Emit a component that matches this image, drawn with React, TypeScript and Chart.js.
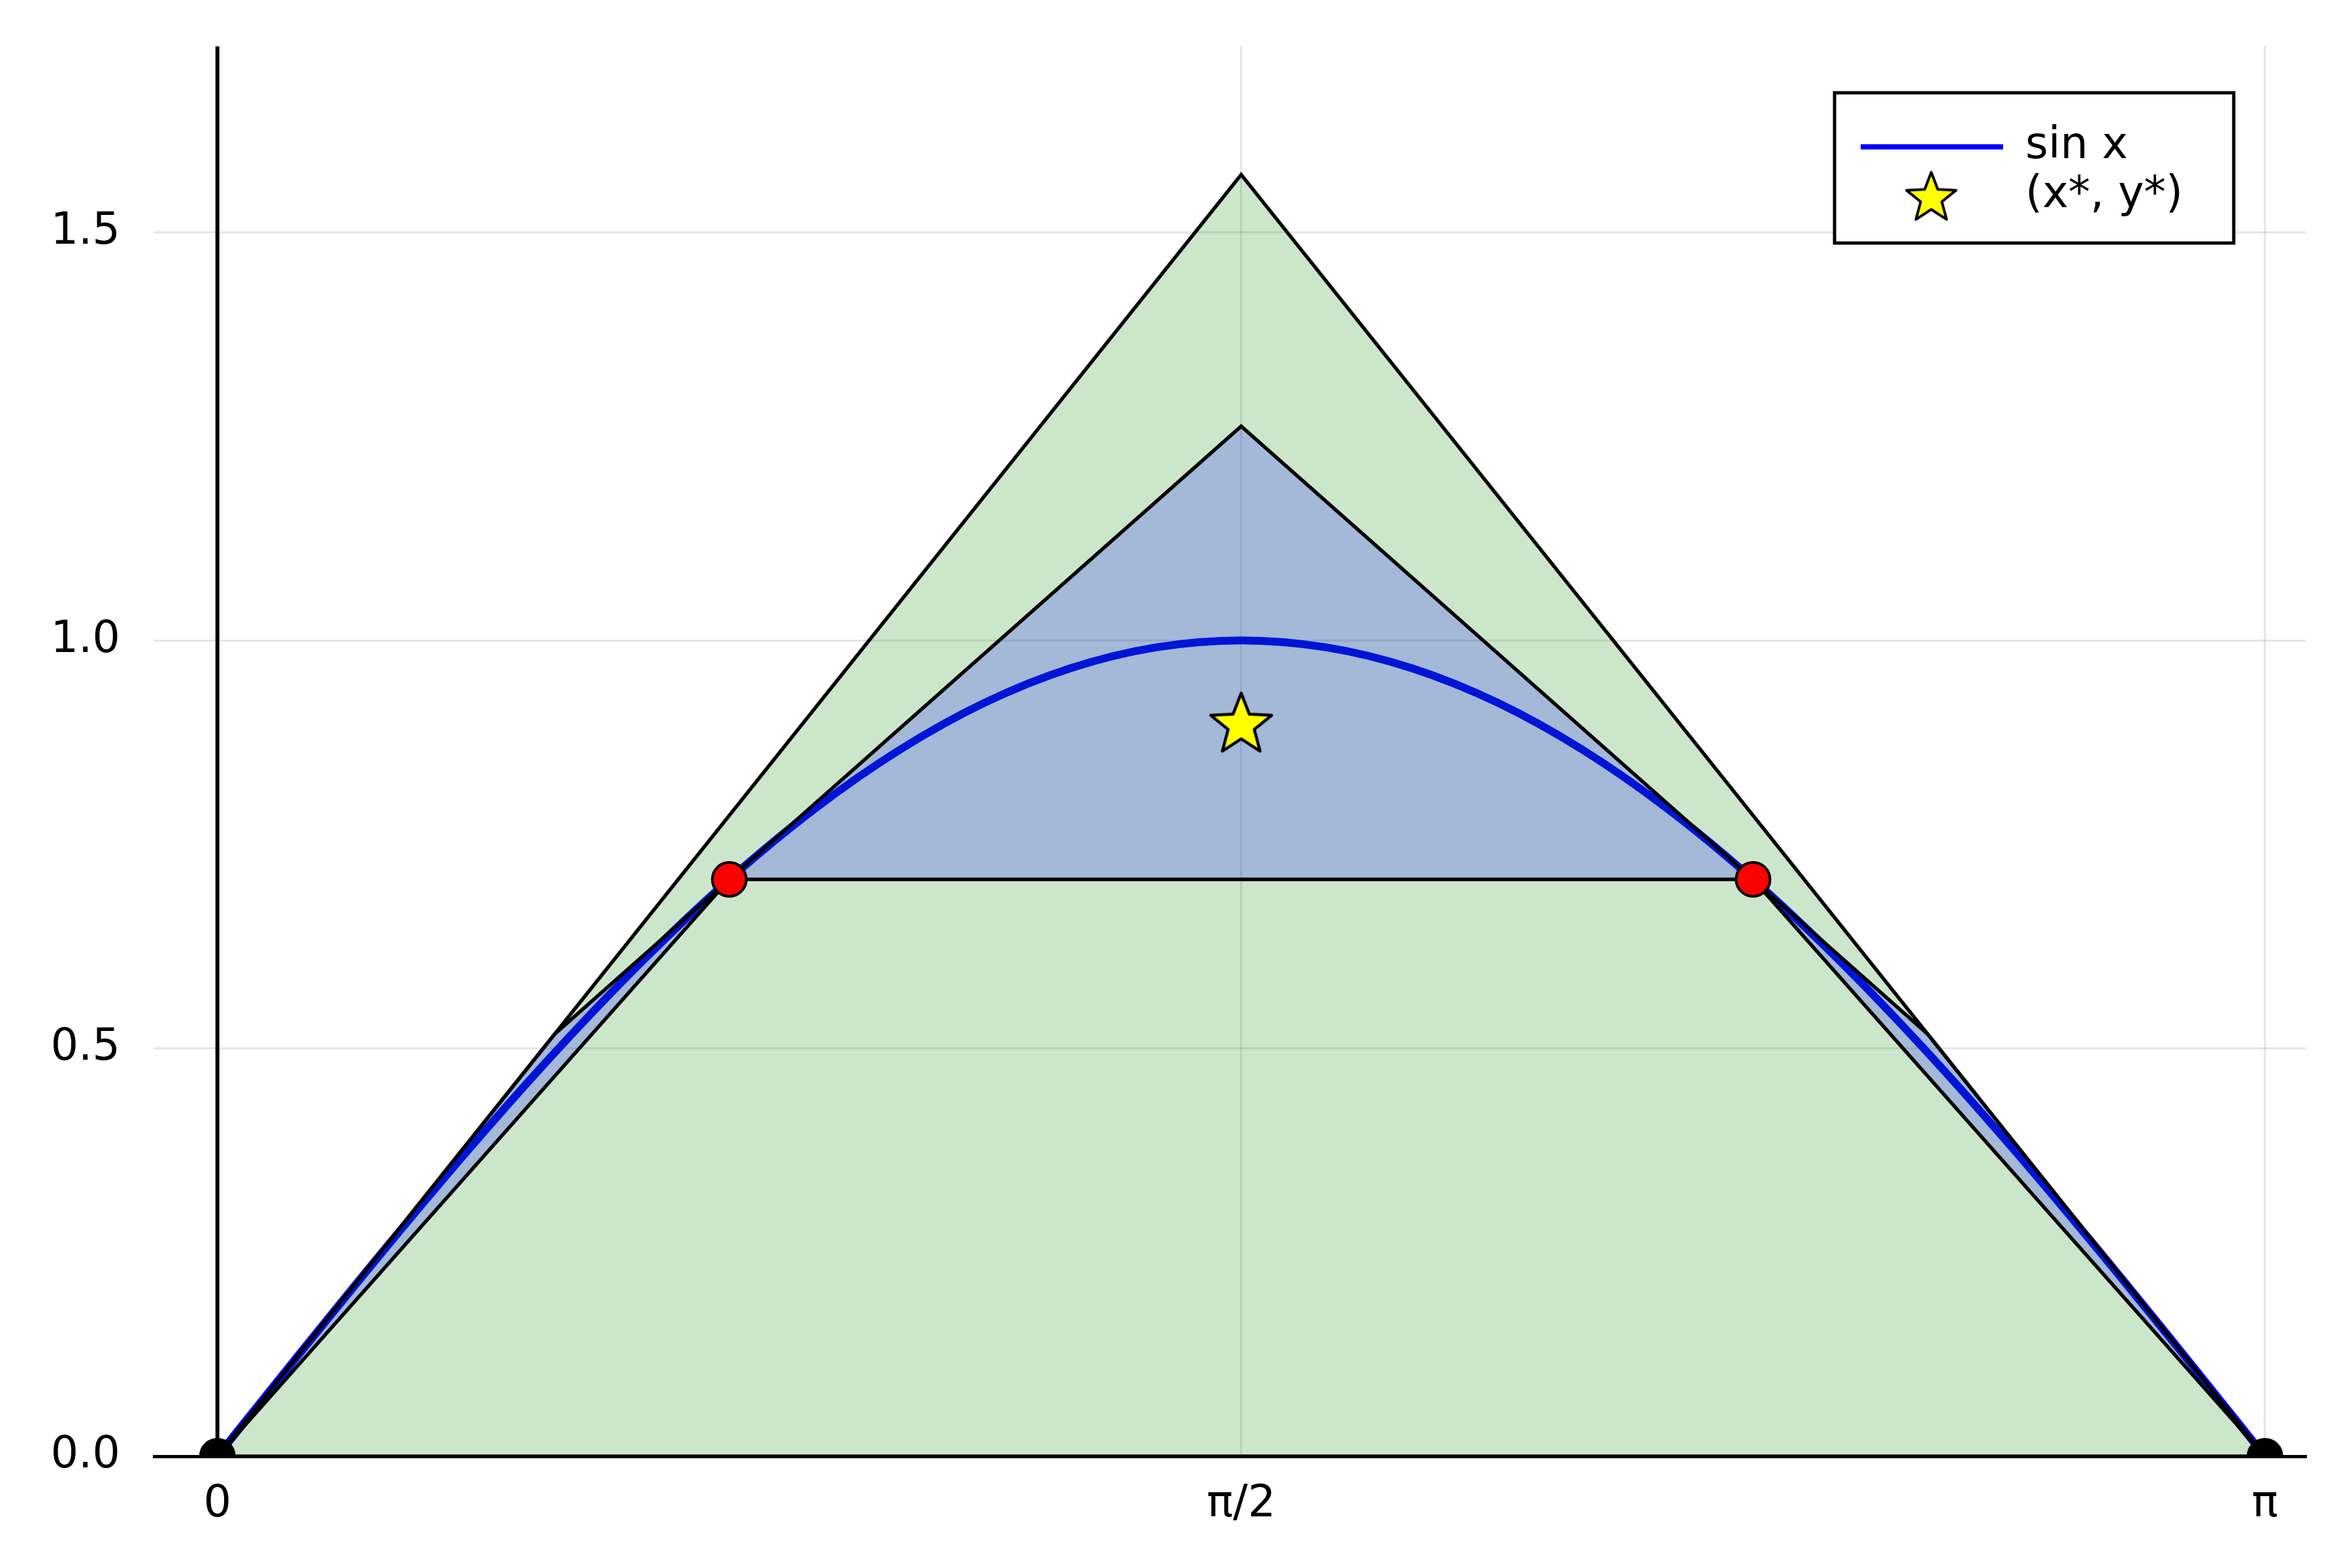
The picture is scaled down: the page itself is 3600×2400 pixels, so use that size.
import React, { useEffect, useRef } from 'react';
import { Chart, registerables } from 'chart.js';

Chart.register(...registerables);

// sin x
const sinX = [0, 0.1309, 0.2618, 0.3927, 0.5236, 0.6545, 0.7854, 0.9163, 1.0472, 1.1781, 1.309, 1.4399, 1.5708, 1.7017, 1.8326, 1.9635, 2.0944, 2.2253, 2.3562, 2.4871, 2.618, 2.7489, 2.8798, 3.0107, 3.1416];
const sinY = [0, 0.1305, 0.2588, 0.3827, 0.5, 0.6088, 0.7071, 0.7934, 0.866, 0.9239, 0.9659, 0.9914, 1.0, 0.9914, 0.9659, 0.9239, 0.866, 0.7934, 0.7071, 0.6088, 0.5, 0.3827, 0.2588, 0.1305, 0];

// outer (green) triangle
const outerX = [0, 1.5708, 3.1416, 0];
const outerY = [0, 1.5708, 0, 0];

// blue band: tangent polygon then chord polygon back
const bandX = [0, 0.5176, 0.7854, 1.5708, 2.3562, 2.624, 3.1416, 2.3562, 0.7854, 0];
const bandY = [0, 0.5176, 0.7071, 1.2625, 0.7071, 0.5176, 0, 0.7071, 0.7071, 0];

// points
const endX = [0, 3.1416];
const endY = [0, 0];
const midX = [0.7854, 2.3562];
const midY = [0.7071, 0.7071];
const starX = [1.5708];
const starY = [0.9];

const xTickValues = [0, 1.5708, 3.1416];
const xTickLabels = ['0', 'π/2', 'π'];
const yTickValues = [0, 0.5, 1.0, 1.5];
const yTickLabels = ['0.0', '0.5', '1.0', '1.5'];

const seriesLabels = ['sin x', '(x*, y*)'];

const X_MIN = -0.097;
const X_MAX = 3.204;
const Y_MIN = 0;
const Y_MAX = 1.728;

const FONT = '"DejaVu Sans", "Liberation Sans", sans-serif';

function zip(xs: number[], ys: number[]) {
  return xs.map((x, i) => ({ x, y: ys[i] }));
}

function makeStar(R: number, r: number, lw: number) {
  const c = document.createElement('canvas');
  const size = Math.ceil(2 * (R + lw)) + 2;
  c.width = size;
  c.height = size;
  const ctx = c.getContext('2d')!;
  const cx = size / 2;
  const cy = size / 2 + R * 0.1;
  ctx.beginPath();
  for (let i = 0; i < 10; i++) {
    const rad = i % 2 === 0 ? R : r;
    const a = -Math.PI / 2 + (i * Math.PI) / 5;
    const px = cx + rad * Math.cos(a);
    const py = cy + rad * Math.sin(a);
    if (i === 0) ctx.moveTo(px, py);
    else ctx.lineTo(px, py);
  }
  ctx.closePath();
  ctx.fillStyle = '#ffff00';
  ctx.fill();
  ctx.lineJoin = 'round';
  ctx.lineWidth = lw;
  ctx.strokeStyle = '#000';
  ctx.stroke();
  return c;
}

export default function App() {
  const ref = useRef<HTMLCanvasElement | null>(null);

  useEffect(() => {
    if (!ref.current) return;
    const star = makeStar(49, 21, 4.5);
    const legendStar = makeStar(40, 17, 4);

    const axisLinePlugin = {
      id: 'zeroAxis',
      beforeDatasetsDraw(chart: any) {
        const { ctx, chartArea } = chart;
        const x = chart.scales.x.getPixelForValue(0);
        ctx.save();
        ctx.strokeStyle = '#000';
        ctx.lineWidth = 6;
        ctx.beginPath();
        ctx.moveTo(x, chartArea.top);
        ctx.lineTo(x, chartArea.bottom);
        ctx.stroke();
        ctx.restore();
      },
    };

    const legendPlugin = {
      id: 'boxLegend',
      afterDraw(chart: any) {
        const ctx = chart.ctx;
        const x0 = 2808, y0 = 142, w = 611, h = 230;
        const row1 = y0 + 0.36 * h;
        const row2 = y0 + 0.685 * h;
        ctx.save();
        ctx.fillStyle = '#ffffff';
        ctx.fillRect(x0, y0, w, h);
        ctx.lineWidth = 5;
        ctx.strokeStyle = '#000';
        ctx.strokeRect(x0, y0, w, h);
        ctx.strokeStyle = 'rgb(0,0,255)';
        ctx.lineWidth = 8;
        ctx.beginPath();
        ctx.moveTo(x0 + 40, row1);
        ctx.lineTo(x0 + 258, row1);
        ctx.stroke();
        ctx.drawImage(legendStar, x0 + 148 - legendStar.width / 2, row2 - legendStar.height / 2);
        ctx.fillStyle = '#000';
        ctx.font = '67px ' + FONT;
        ctx.textBaseline = 'middle';
        ctx.textAlign = 'left';
        ctx.fillText(seriesLabels[0], x0 + 292, row1);
        ctx.fillText(seriesLabels[1], x0 + 292, row2);
        ctx.restore();
      },
    };

    const lineBase = {
      pointRadius: 0,
      pointHoverRadius: 0,
      tension: 0,
    };

    const chart = new Chart(ref.current, {
      type: 'line',
      data: {
        datasets: [
          {
            ...lineBase,
            label: 'tangent points',
            data: zip(midX, midY),
            showLine: false,
            pointRadius: 26,
            pointBackgroundColor: '#ff0000',
            pointBorderColor: '#000',
            pointBorderWidth: 4,
            order: 0,
            clip: false as any,
          } as any,
          {
            ...lineBase,
            label: 'endpoints',
            data: zip(endX, endY),
            showLine: false,
            pointRadius: 26,
            pointBackgroundColor: '#000',
            pointBorderColor: '#000',
            pointBorderWidth: 4,
            order: 1,
            clip: 0 as any,
          } as any,
          {
            ...lineBase,
            label: seriesLabels[1],
            data: zip(starX, starY),
            showLine: false,
            pointRadius: 40,
            pointStyle: star as any,
            order: 2,
          } as any,
          {
            ...lineBase,
            label: 'band',
            data: zip(bandX, bandY),
            borderColor: '#000',
            borderWidth: 5.5,
            backgroundColor: 'rgba(0,0,255,0.2)',
            fill: 'shape' as any,
            order: 3,
          } as any,
          {
            ...lineBase,
            label: 'triangle',
            data: zip(outerX, outerY),
            borderColor: '#000',
            borderWidth: 5.5,
            backgroundColor: 'rgba(0,128,0,0.2)',
            fill: 'shape' as any,
            order: 4,
          } as any,
          {
            ...lineBase,
            label: seriesLabels[0],
            data: zip(sinX, sinY),
            borderColor: 'rgb(0,0,255)',
            borderWidth: 12,
            cubicInterpolationMode: 'monotone',
            fill: false,
            order: 5,
          } as any,
        ],
      },
      options: {
        animation: false,
        responsive: false,
        events: [],
        layout: { padding: { left: 0, right: 71, top: 0, bottom: 0 } },
        plugins: {
          legend: { display: false },
          tooltip: { enabled: false },
        },
        scales: {
          x: {
            type: 'linear',
            min: X_MIN,
            max: X_MAX,
            afterBuildTicks: (s: any) => {
              s.ticks = xTickValues.map((v) => ({ value: v }));
            },
            afterFit: (s: any) => {
              s.height = 171;
            },
            ticks: {
              autoSkip: false,
              maxRotation: 0,
              padding: 34,
              color: '#000',
              font: { size: 67, family: FONT },
              callback: (v: any) => {
                const i = xTickValues.indexOf(v);
                return i >= 0 ? xTickLabels[i] : '';
              },
            },
            grid: {
              color: 'rgba(0,0,0,0.1)',
              lineWidth: 3,
              drawTicks: false,
            },
            border: { display: true, color: '#000', width: 5 },
          },
          y: {
            type: 'linear',
            min: Y_MIN,
            max: Y_MAX,
            afterBuildTicks: (s: any) => {
              s.ticks = yTickValues.map((v) => ({ value: v }));
            },
            afterFit: (s: any) => {
              s.width = 236;
              s.paddingTop = 71;
            },
            ticks: {
              autoSkip: false,
              padding: 52,
              color: '#000',
              font: { size: 67, family: FONT },
              callback: (v: any) => {
                const i = yTickValues.indexOf(v);
                return i >= 0 ? yTickLabels[i] : '';
              },
            },
            grid: {
              color: 'rgba(0,0,0,0.1)',
              lineWidth: 3,
              drawTicks: false,
            },
            border: { display: false },
          },
        },
      },
      plugins: [axisLinePlugin, legendPlugin],
    } as any);

    return () => chart.destroy();
  }, []);

  return (
    <div style={{ position: 'absolute', left: 0, top: 0, width: 3600, height: 2400, background: '#fff' }}>
      <canvas ref={ref} width={3600} height={2400} style={{ width: 3600, height: 2400, display: 'block' }} />
    </div>
  );
}
